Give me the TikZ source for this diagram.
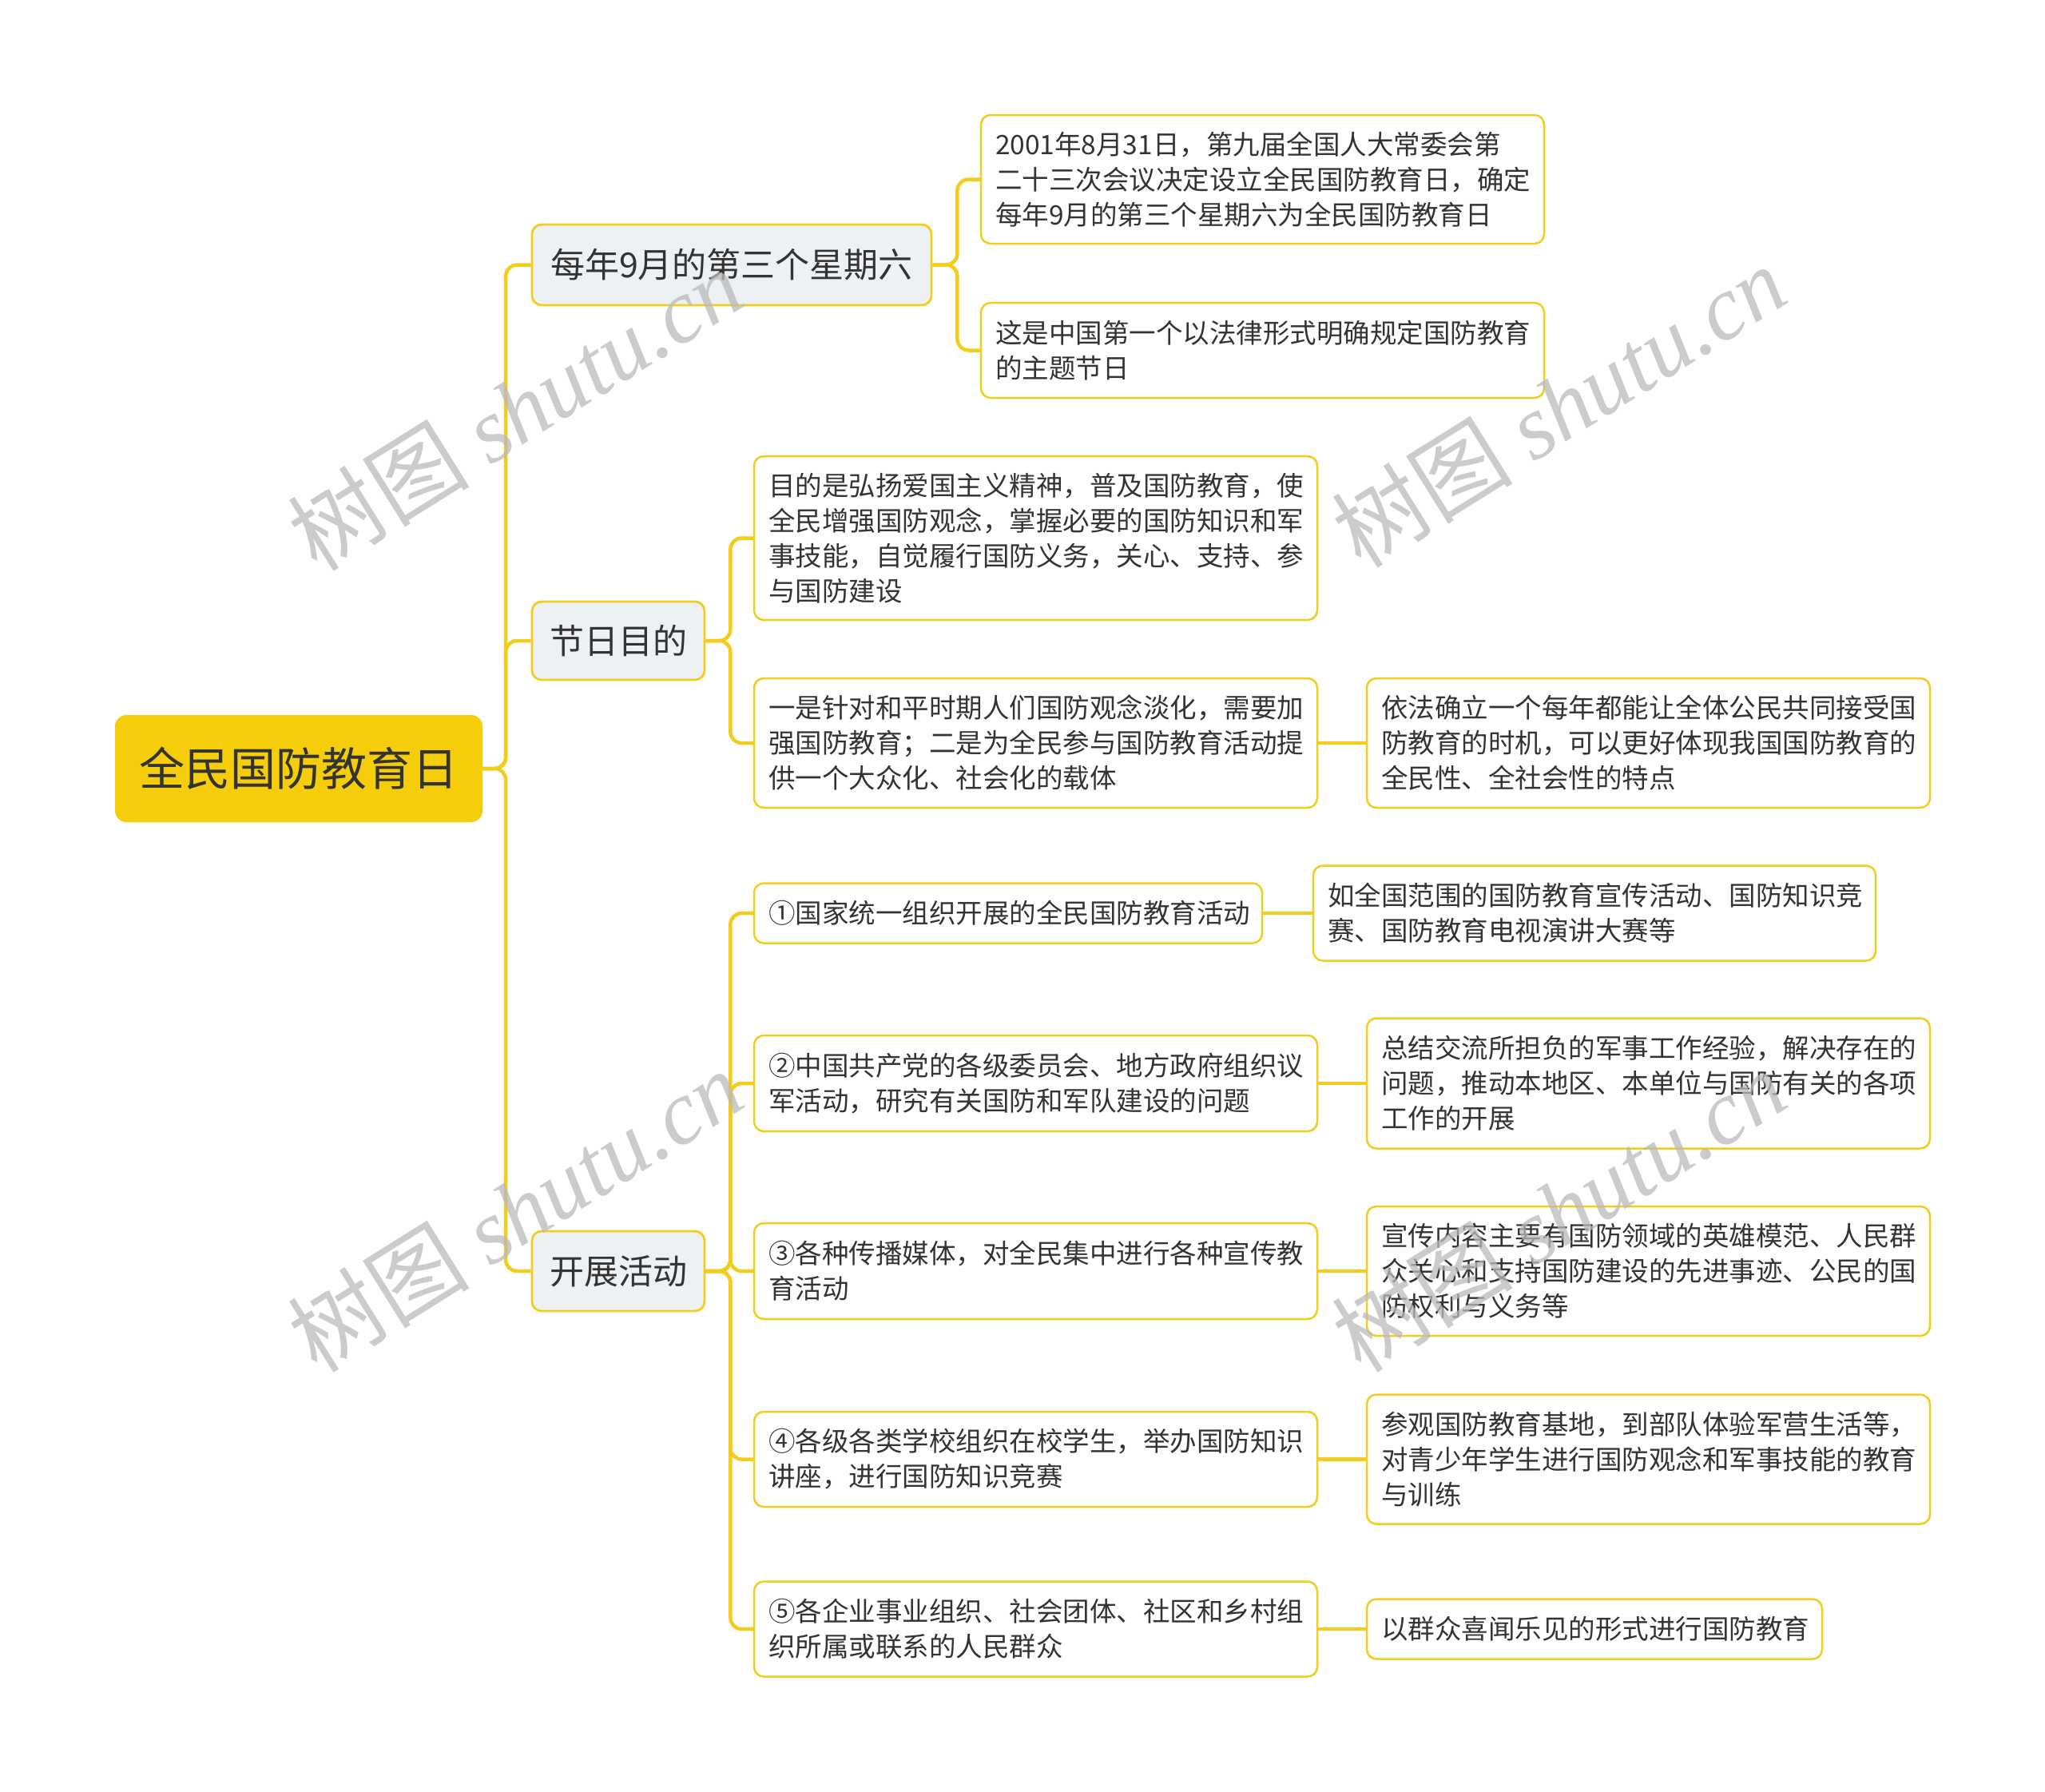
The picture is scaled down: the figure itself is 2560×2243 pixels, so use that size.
\documentclass[tikz,border=0pt]{standalone}
\usepackage{fontspec}
\setmainfont{Noto Sans CJK SC}
\newfontfamily\wmserif{Liberation Serif}
\usetikzlibrary{positioning}
\definecolor{ylw}{HTML}{F2CD1C}
\definecolor{rootfill}{HTML}{F6CD0B}
\definecolor{lvfill}{HTML}{EEF1F4}
\definecolor{txt}{HTML}{333333}
\tikzset{
  rootbox/.style={draw=none, fill=rootfill, rounded corners=14pt, inner sep=0pt,
    text=txt, font=\fontsize{57}{68}\selectfont},
  lvbox/.style={draw=ylw, line width=2.8pt, fill=lvfill, rounded corners=12pt, inner sep=0pt,
    text=txt, font=\fontsize{43}{52}\selectfont},
  leafbox/.style={draw=ylw, line width=2.5pt, fill=white, rounded corners=12pt,
    inner xsep=18pt, inner ysep=0pt, align=left, text=txt,
    font=\fontsize{33.5}{44}\selectfont},
  conn/.style={draw=ylw, line width=4.5pt, rounded corners=14pt},
  wm/.style={text=black!27, text opacity=0.75, font=\fontsize{114}{118}\selectfont, inner sep=0pt}
}
\begin{document}
\begin{tikzpicture}[x=1pt,y=-1pt]
\useasboundingbox (0,0) rectangle (2560,2243);
% root and level 1
\node[rootbox, minimum width=460, minimum height=134] (root) at (374,962) {全民国防教育日};
\node[lvbox, minimum width=500, minimum height=101] (la) at (916,331.5) {每年9月的第三个星期六};
\node[lvbox, minimum width=216, minimum height=98] (lb) at (774,802) {节日目的};
\node[lvbox, minimum width=216, minimum height=100] (lc) at (774,1591) {开展活动};
% leaves
\node[leafbox, text width=669, minimum height=161] (a1) at (1580.5,224.5) {2001年8月31日，第九届全国人大常委会第\\二十三次会议决定设立全民国防教育日，确定\\每年9月的第三个星期六为全民国防教育日};
\node[leafbox, text width=669, minimum height=119] (a2) at (1580.5,438.5) {这是中国第一个以法律形式明确规定国防教育\\的主题节日};
\node[leafbox, text width=669, minimum height=205] (b1) at (1296.5,673.5) {目的是弘扬爱国主义精神，普及国防教育，使\\全民增强国防观念，掌握必要的国防知识和军\\事技能，自觉履行国防义务，关心、支持、参\\与国防建设};
\node[leafbox, text width=669, minimum height=162] (b2) at (1296.5,930) {一是针对和平时期人们国防观念淡化，需要加\\强国防教育；二是为全民参与国防教育活动提\\供一个大众化、社会化的载体};
\node[leafbox, text width=669, minimum height=162] (b2c) at (2063.5,930) {依法确立一个每年都能让全体公民共同接受国\\防教育的时机，可以更好体现我国国防教育的\\全民性、全社会性的特点};
\node[leafbox, text width=600, minimum height=75] (c1) at (1262,1143) {①国家统一组织开展的全民国防教育活动};
\node[leafbox, text width=668, minimum height=119] (c1c) at (1996,1143) {如全国范围的国防教育宣传活动、国防知识竞\\赛、国防教育电视演讲大赛等};
\node[leafbox, text width=669, minimum height=120] (c2) at (1296.5,1356) {②中国共产党的各级委员会、地方政府组织议\\军活动，研究有关国防和军队建设的问题};
\node[leafbox, text width=669, minimum height=163] (c2c) at (2063.5,1356) {总结交流所担负的军事工作经验，解决存在的\\问题，推动本地区、本单位与国防有关的各项\\工作的开展};
\node[leafbox, text width=669, minimum height=120] (c3) at (1296.5,1591) {③各种传播媒体，对全民集中进行各种宣传教\\育活动};
\node[leafbox, text width=669, minimum height=162] (c3c) at (2063.5,1591) {宣传内容主要有国防领域的英雄模范、人民群\\众关心和支持国防建设的先进事迹、公民的国\\防权利与义务等};
\node[leafbox, text width=669, minimum height=119] (c4) at (1296.5,1826.5) {④各级各类学校组织在校学生，举办国防知识\\讲座，进行国防知识竞赛};
\node[leafbox, text width=669, minimum height=162] (c4c) at (2063.5,1826.5) {参观国防教育基地，到部队体验军营生活等，\\对青少年学生进行国防观念和军事技能的教育\\与训练};
\node[leafbox, text width=669, minimum height=119] (c5) at (1296.5,2039) {⑤各企业事业组织、社会团体、社区和乡村组\\织所属或联系的人民群众};
\node[leafbox, text width=534, minimum height=75] (c5c) at (1996,2039) {以群众喜闻乐见的形式进行国防教育};
% connectors
\foreach \t in {la,lb,lc} \draw[conn] (root.east) -- ++(29,0) |- (\t.west);
\foreach \t in {a1,a2} \draw[conn] (la.east) -- ++(31,0) |- (\t.west);
\foreach \t in {b1,b2} \draw[conn] (lb.east) -- ++(31,0) |- (\t.west);
\foreach \t in {c1,c2,c3,c4,c5} \draw[conn] (lc.east) -- ++(31,0) |- (\t.west);
\draw[conn] (b2.east) -- (b2c.west);
\draw[conn] (c1.east) -- (c1c.west);
\draw[conn] (c2.east) -- (c2c.west);
\draw[conn] (c3.east) -- (c3c.west);
\draw[conn] (c4.east) -- (c4c.west);
\draw[conn] (c5.east) -- (c5c.west);
% watermarks
\node[wm, rotate=32] (w1) at (645,512) {树图 {\wmserif\itshape shutu.cn}};
\node[wm, rotate=32] (w2) at (1951,508) {树图 {\wmserif\itshape shutu.cn}};
\node[wm, rotate=32] (w3) at (645,1515) {树图 {\wmserif\itshape shutu.cn}};
\node[wm, rotate=32] (w4) at (1951,1515) {树图 {\wmserif\itshape shutu.cn}};
\end{tikzpicture}
\end{document}
